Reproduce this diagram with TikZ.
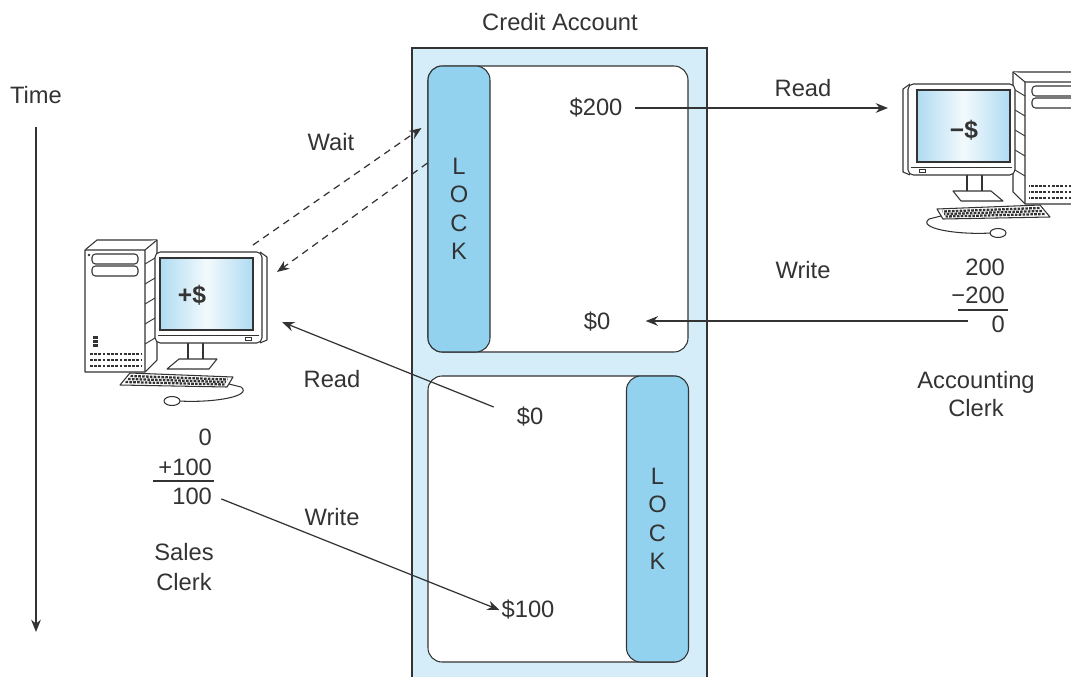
\documentclass[tikz,border=0pt]{standalone}
\usepackage{fontspec}
\setmainfont{Liberation Sans}
\usetikzlibrary{arrows.meta,calc}

\definecolor{linecol}{HTML}{333333}
\definecolor{acctfill}{HTML}{D4EDF9}
\definecolor{lockfill}{HTML}{92D2EF}
\definecolor{screenblue}{HTML}{AFDBF2}

\tikzset{
  lbl/.style={text=linecol,font=\fontsize{13.5}{17}\selectfont,inner sep=1pt,align=center},
  lockbox/.style={draw=linecol,fill=lockfill,rounded corners=8pt,line width=0.6pt,
    minimum width=1.24cm,minimum height=5.72cm,text=linecol,align=center,
    font=\fontsize{13.5}{16.2}\selectfont},
  panel/.style={draw=linecol,fill=white,rounded corners=8pt,line width=0.6pt},
  flow/.style={->,>={Stealth[length=7pt,width=5.5pt]},draw=linecol,line width=0.7pt},
  waitflow/.style={flow,dash pattern=on 4pt off 3pt},
  part/.style={draw=linecol,fill=white,line width=0.6pt,line join=round},
  vent/.style={draw=linecol,line width=1.4pt,dash pattern=on 1.6pt off 0.8pt},
  % desk computer, tower on the left, origin at the middle of the screen
  desktop/.pic={
    \draw[part] (-120,-44) -- (-108,-54) -- (-48,-54) -- (-48,66) -- (-60,78) -- (-120,78) -- cycle;
    \draw[part] (-120,-44) -- (-60,-44) -- (-48,-54) (-60,-44) -- (-60,78);
    \draw[part,rounded corners=2pt] (-113,-40) rectangle (-67,-30);
    \draw[part,rounded corners=2pt] (-113,-28) rectangle (-67,-18);
    \fill[linecol] (-116,-39) circle (1.3);
    \foreach \v in {42,46,50} \fill[linecol] (-112,\v) rectangle (-107,\v+2.5);
    \foreach \v in {60,66,72} \draw[vent] (-115,\v) -- (-64,\v);
    \foreach \v in {-30,-10,10,30,50} \draw[linecol,line width=0.5pt] (-60,\v) -- (-50,\v-6);
    % stand
    \draw[part] (-17,45) rectangle (-2,66);
    \draw[part] (-38,75) -- (-26,65) -- (12,65) -- (4,75) -- cycle;
    % monitor
    \draw[part] (55,-42) -- (62,-37) -- (62,46) -- (55,49);
    \draw[part,rounded corners=3pt] (-50,-42) rectangle (57,49);
    \draw[linecol,line width=0.6pt,left color=screenblue,right color=screenblue,middle color=white!85!screenblue]
      (-45,-36) rectangle (48,36);
    \draw[linecol,line width=0.5pt] (-47,41) -- (54,41);
    \draw[linecol,line width=0.5pt] (40,43) rectangle (46,46);
    % keyboard and mouse
    \draw[part] (-75,79) -- (-85,91) -- (22,93) -- (28,83) -- cycle;
    \foreach \v in {0.25,0.5,0.75}
      \draw[linecol,line width=1.3pt,dash pattern=on 1.5pt off 0.7pt]
        ($(-75,79)!\v!(-85,91)+(3,0)$) -- ($(28,83)!\v!(22,93)+(-4,0)$);
    \draw[linecol,line width=0.6pt] (-26,107) .. controls (10,109) and (48,102) .. (36,93) -- (24,90);
    \draw[part] (-33,107) ellipse (8 and 4.5);
  }
}

\begin{document}
\begin{tikzpicture}[x=0.02cm,y=-0.02cm]
\useasboundingbox (0,0) rectangle (1071,676);

% the account and its two records
\node[lbl] (title) at (560,22) {Credit Account};
\draw[draw=linecol,fill=acctfill,line width=0.8pt] (412,48) rectangle (707,700);
\draw[panel] (428,66) rectangle (688,352);
\draw[panel] (428,376) rectangle (688,662);
\node[lockbox] (locka) at (459,209) {L\\O\\C\\K};
\node[lockbox] (lockb) at (657.5,519) {L\\O\\C\\K};

\node[lbl] (bal200) at (596,108) {\$200};
\node[lbl] (bal0a)  at (597,322) {\$0};
\node[lbl] (bal0b)  at (530,417) {\$0};
\node[lbl] (bal100) at (528,610) {\$100};

% the two clerks
\pic (sales) at (205,294) {desktop};
\pic[xscale=-1] (acct) at (965,126) {desktop};
\node[lbl,font=\fontsize{14}{17}\selectfont\bfseries] (salesscr) at (192,295) {+\$};
\node[lbl,font=\fontsize{14}{17}\selectfont\bfseries] (acctscr) at (964,130) {−\$};

\node[lbl] (salesname) at (184,567) {Sales\\Clerk};
\node[lbl,font=\fontsize{13.5}{16}\selectfont] (acctname) at (976,394) {Accounting\\Clerk};

% working sums
\node[lbl,anchor=east] (sa1) at (214,437) {0};
\node[lbl,anchor=east] (sa2) at (214,467) {+100};
\node[lbl,anchor=east] (sa3) at (214,496) {100};
\draw[linecol,line width=0.8pt] (153,481) -- (214,481);
\node[lbl,anchor=east] (ac1) at (1007,267) {200};
\node[lbl,anchor=east] (ac2) at (1007,295) {−200};
\node[lbl,anchor=east] (ac3) at (1007,324) {0};
\draw[linecol,line width=0.8pt] (958,310) -- (1008,310);

% time axis
\node[lbl] (time) at (36,95) {Time};
\coordinate (timeend) at (36,632);
\draw[flow] ([yshift=-12pt]time.south) -- (timeend);

% reads and writes
\coordinate (acctin)  at (888,108);
\coordinate (acctout) at (968,321);
\coordinate (salesin) at (282,322);
\coordinate (waitout) at (253,245);
\coordinate (waitin)  at (277,272);
\draw[flow,shorten <=6pt] (bal200.east) -- (acctin);
\draw[flow,shorten >=19pt] (acctout) -- (bal0a.east |- acctout);
\draw[flow] ([shift={(-21,-10)}]bal0b.west) -- (salesin);
\draw[flow,shorten <=4.5pt] (sa3.east) -- (bal100.west);
\draw[waitflow] (waitout) -- ([shift={(-6,-81)}]locka.west);
\draw[waitflow] ([shift={(0,-46)}]locka.west) -- (waitin);

\node[lbl] (readacct)  at (803,88)  {Read};
\node[lbl] (writeacct) at (803,270) {Write};
\node[lbl] (waitlbl)   at (331,142) {Wait};
\node[lbl] (readsales) at (332,379) {Read};
\node[lbl] (writesales) at (332,517) {Write};
\end{tikzpicture}
\end{document}
